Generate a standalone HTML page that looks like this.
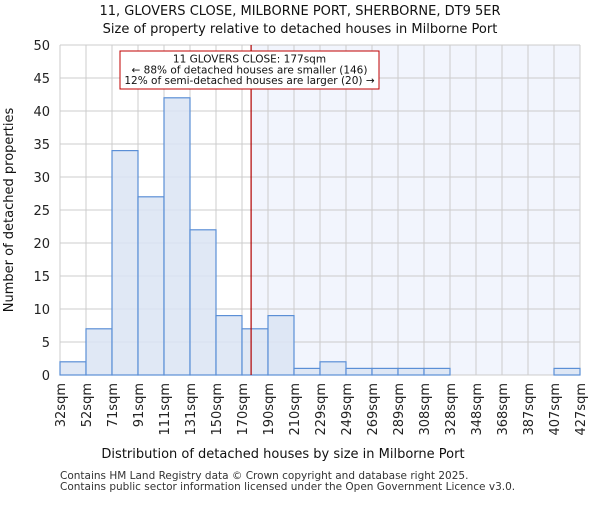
<!DOCTYPE html>
<html><head><meta charset="utf-8"><style>
body{margin:0;background:#fff;font-family:"Liberation Sans","DejaVu Sans",sans-serif}
</style></head><body>
<svg id="c" width="600" height="500" xmlns="http://www.w3.org/2000/svg" font-family="DejaVu Sans, Liberation Sans, sans-serif"></svg>
<script>
const edges=[32,52,71,91,111,131,150,170,190,210,229,249,269,289,308,328,348,368,387,407,427];
const counts=[2,7,34,27,42,22,9,7,9,1,2,1,1,1,1,0,0,0,0,1];
const yTicks=[0,5,10,15,20,25,30,35,40,45,50];
const subject=177;
const L=60,R=580,T=45,B=375,yMax=50;
const svg=document.getElementById('c');const NS='http://www.w3.org/2000/svg';
const xi=i=>L+(R-L)*i/counts.length;
const y=v=>B-(B-T)*v/yMax;
function xv(v){for(let i=0;i<edges.length-1;i++){if(v>=edges[i]&&v<=edges[i+1])return xi(i)+(xi(i+1)-xi(i))*(v-edges[i])/(edges[i+1]-edges[i]);}return R;}
function el(t,a,txt){const e=document.createElementNS(NS,t);for(const k in a)e.setAttribute(k,a[k]);if(txt!=null)e.textContent=txt;svg.appendChild(e);return e;}
const sx=xv(subject);
let e=el('rect',{x:sx,y:T,width:R-sx,height:B-T,fill:'#f2f5fd'});

yTicks.forEach(v=>{let g=el('line',{x1:L,x2:R,y1:y(v),y2:y(v),stroke:'#cccccc'});

let t=el('text',{x:L-10,y:y(v)+5,'text-anchor':'end','font-size':13,fill:'#222'},v);
});
edges.forEach((v,i)=>{let g=el('line',{x1:xi(i),x2:xi(i),y1:T,y2:B,stroke:'#cccccc'});

let t=el('text',{x:0,y:0,'text-anchor':'end','font-size':13,fill:'#222',transform:`translate(${xi(i)+5},${B+8}) rotate(-90)`},v+'sqm');
});
counts.forEach((c,i)=>{if(c<=0)return;let b=el('rect',{x:xi(i),y:y(c),width:xi(i+1)-xi(i),height:B-y(c),fill:'#dae4f3',stroke:'#5b8fd6','stroke-width':1.2,'fill-opacity':0.85});
});
e=el('line',{x1:sx,x2:sx,y1:T,y2:B,stroke:'#b00000','stroke-width':1.2});

e=el('rect',{x:120,y:51,width:259,height:38,fill:'#fff',stroke:'#c00000','stroke-width':1});

['11 GLOVERS CLOSE: 177sqm','← 88% of detached houses are smaller (146)','12% of semi-detached houses are larger (20) →'].forEach((s,i)=>{
let t=el('text',{x:249.5,y:62.5+i*10.8,'text-anchor':'middle','font-size':10.5,fill:'#111'},s);
});
e=el('text',{x:300,y:15,'text-anchor':'middle','font-size':13,fill:'#111'},'11, GLOVERS CLOSE, MILBORNE PORT, SHERBORNE, DT9 5ER');

e=el('text',{x:300,y:33,'text-anchor':'middle','font-size':13,fill:'#111'},'Size of property relative to detached houses in Milborne Port');

e=el('text',{x:283,y:458,'text-anchor':'middle','font-size':13,fill:'#111'},'Distribution of detached houses by size in Milborne Port');

e=el('text',{x:0,y:0,'text-anchor':'middle','font-size':13,fill:'#111',transform:'translate(13,210) rotate(-90)'},'Number of detached properties');

e=el('text',{x:60,y:483,'font-size':10.5,fill:'#333'},'Contains HM Land Registry data © Crown copyright and database right 2025.');
e.setAttribute('y',479);

e=el('text',{x:60,y:490,'font-size':10.5,fill:'#333'},'Contains public sector information licensed under the Open Government Licence v3.0.');

</script>
</body></html>
